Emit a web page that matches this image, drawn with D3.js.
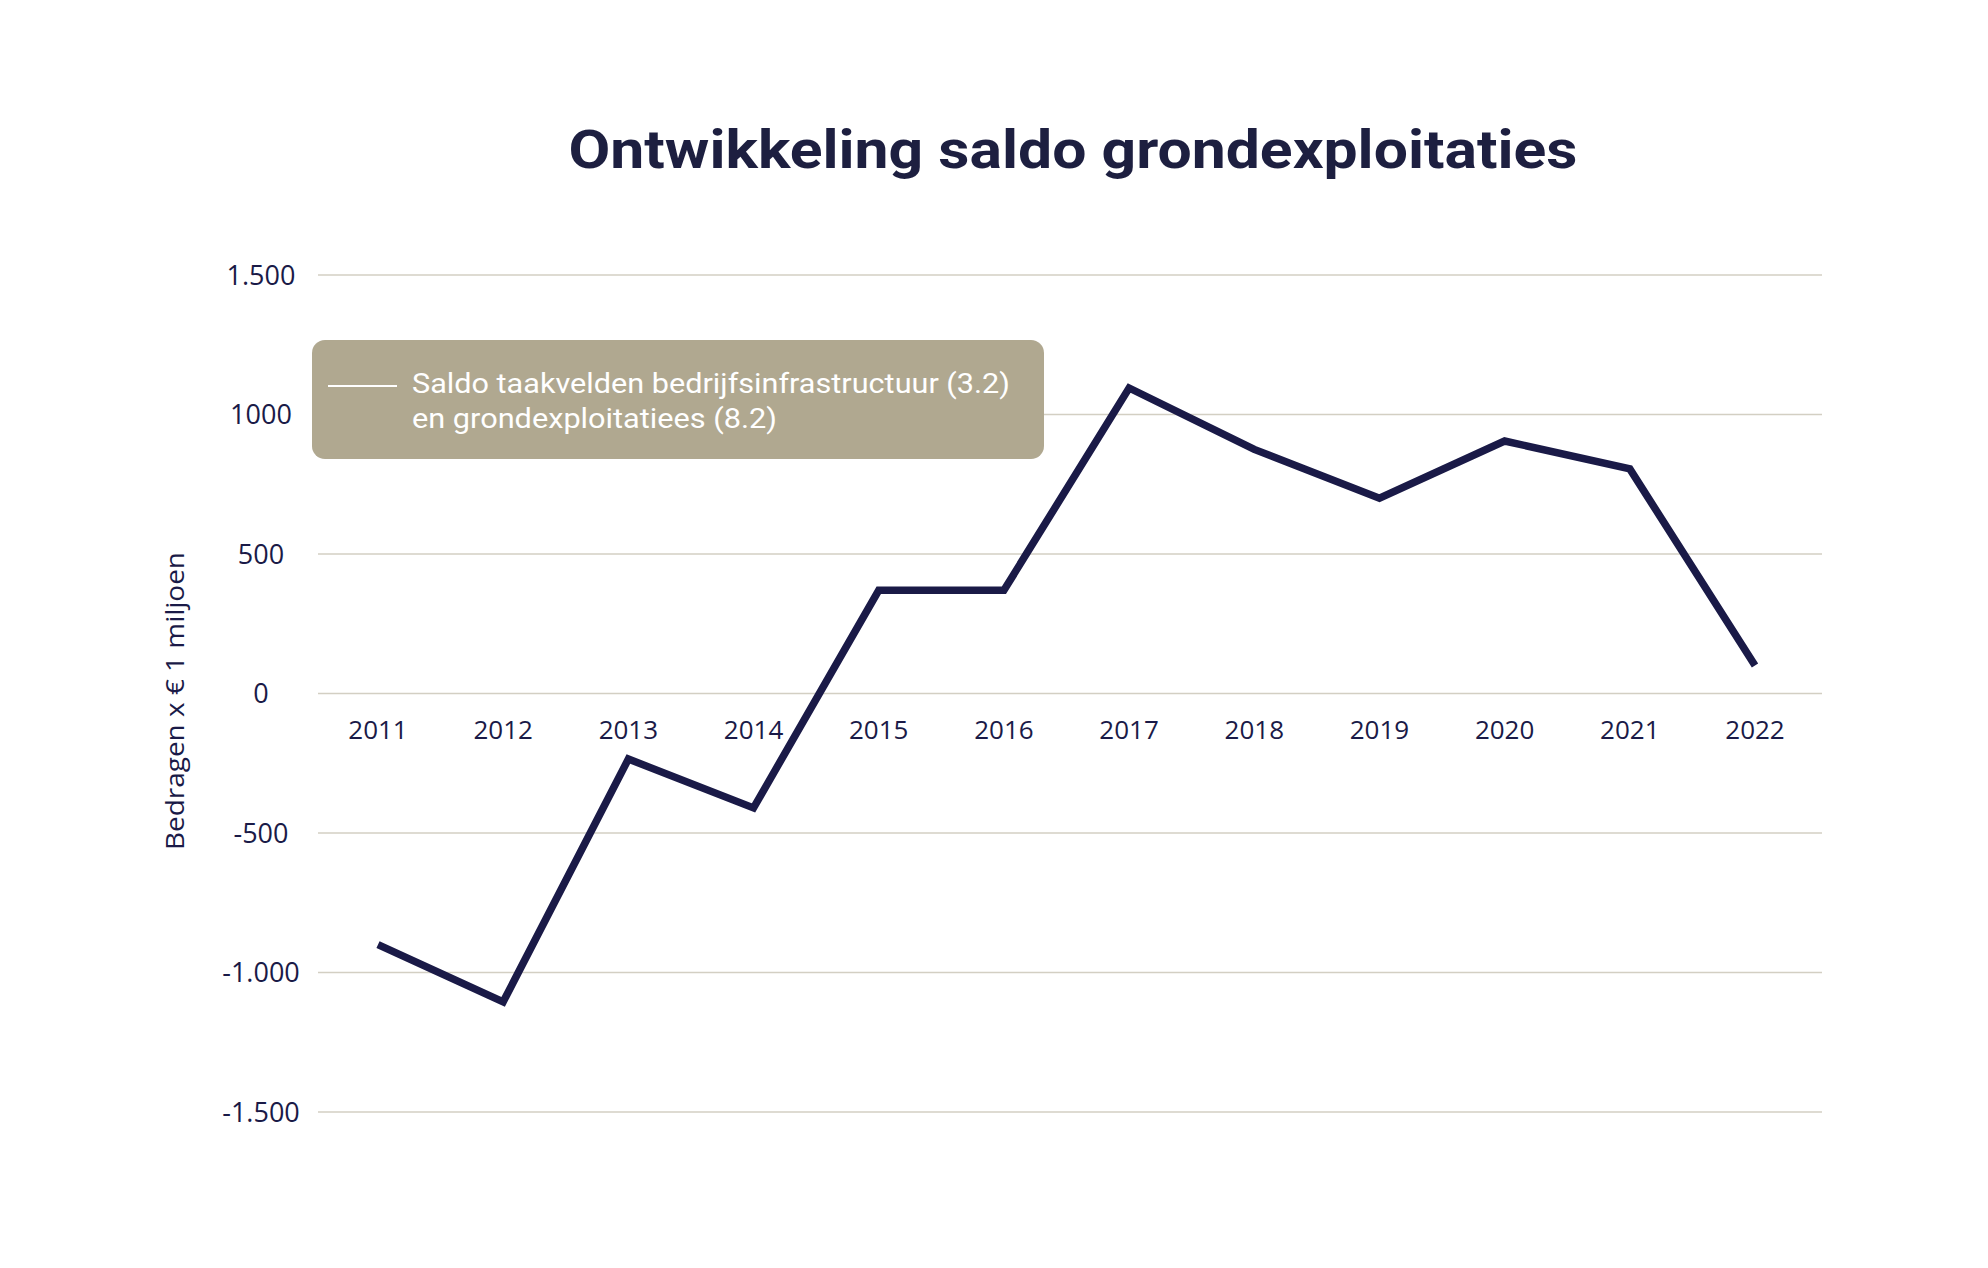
<!DOCTYPE html>
<html>
<head>
<meta charset="utf-8">
<script src="https://cdn.jsdelivr.net/npm/d3@7"></script>
<style>
  html, body { margin: 0; padding: 0; background: #fff; }
  svg { display: block; }
</style>
</head>
<body>
<svg id="chart" width="1988" height="1268"></svg>
<script>
const years = ["2011","2012","2013","2014","2015","2016","2017","2018","2019","2020","2021","2022"];
const saldo = [-900, -1105, -235, -410, 370, 370, 1095, 875, 700, 905, 805, 100];
const yTicks = [1500, 1000, 500, 0, -500, -1000, -1500];
const yTickLabels = ["1.500", "1000", "500", "0", "-500", "-1.000", "-1.500"];
const titleText = "Ontwikkeling saldo grondexploitaties";
const yAxisTitle = "Bedragen x € 1 miljoen";
const legendLines = ["Saldo taakvelden bedrijfsinfrastructuur (3.2)", "en grondexploitatiees (8.2)"];

const navy = "#1a1a47";
const gridColor = "#d3cfc3";
const legendFill = "#b0a890";

const svg = d3.select("#chart");

const x = d3.scalePoint().domain(years).range([378, 1755]);
const y = d3.scaleLinear().domain([-1500, 1500]).range([1112, 275]);

// Title
svg.append("text")
  .attr("x", 1073).attr("y", 168)
  .attr("text-anchor", "middle")
  .attr("font-family", "Roboto, sans-serif")
  .attr("font-weight", 700)
  .attr("font-size", 54)
  .attr("fill", "#1d1f40")
  .attr("textLength", 1009)
  .attr("lengthAdjust", "spacingAndGlyphs")
  .text(titleText);

// Gridlines
svg.append("g").selectAll("line").data(yTicks).join("line")
  .attr("x1", 318).attr("x2", 1822)
  .attr("y1", d => y(d)).attr("y2", d => y(d))
  .attr("stroke", gridColor).attr("stroke-width", 1.5);

// Y tick labels
svg.append("g").selectAll("text").data(yTicks).join("text")
  .attr("x", 261).attr("y", d => y(d))
  .attr("dy", "0.36em")
  .attr("text-anchor", "middle")
  .attr("font-family", "'Open Sans', sans-serif")
  .attr("font-weight", 500)
  .attr("font-size", 27)
  .attr("fill", navy)
  .text((d, i) => yTickLabels[i]);

// X labels
svg.append("g").selectAll("text").data(years).join("text")
  .attr("x", d => x(d)).attr("y", 739)
  .attr("text-anchor", "middle")
  .attr("font-family", "'Open Sans', sans-serif")
  .attr("font-weight", 500)
  .attr("font-size", 26)
  .attr("fill", navy)
  .text(d => d);

// Y axis title
svg.append("text")
  .attr("transform", "translate(184,701) rotate(-90)")
  .attr("text-anchor", "middle")
  .attr("font-family", "'Open Sans', sans-serif")
  .attr("font-weight", 500)
  .attr("font-size", 26)
  .attr("fill", navy)
  .attr("textLength", 298)
  .attr("lengthAdjust", "spacingAndGlyphs")
  .text(yAxisTitle);

// Line
const line = d3.line().x((d, i) => x(years[i])).y(d => y(d));
svg.append("path")
  .datum(saldo)
  .attr("d", line)
  .attr("fill", "none")
  .attr("stroke", navy)
  .attr("stroke-width", 7.5)
  .attr("stroke-linejoin", "miter");

// Legend
const lg = svg.append("g");
lg.append("rect")
  .attr("x", 312).attr("y", 340).attr("width", 732).attr("height", 119)
  .attr("rx", 13).attr("ry", 13)
  .attr("fill", legendFill);
lg.append("line")
  .attr("x1", 328).attr("x2", 397).attr("y1", 386).attr("y2", 386)
  .attr("stroke", "#fff").attr("stroke-width", 2);
lg.selectAll("text").data(legendLines).join("text")
  .attr("x", 412).attr("y", (d, i) => 393 + i * 35)
  .attr("font-family", "Roboto, sans-serif")
  .attr("font-size", 27)
  .attr("fill", "#fff")
  .attr("textLength", (d, i) => i === 0 ? 598 : 365)
  .attr("lengthAdjust", "spacingAndGlyphs")
  .text(d => d);
</script>
</body>
</html>
